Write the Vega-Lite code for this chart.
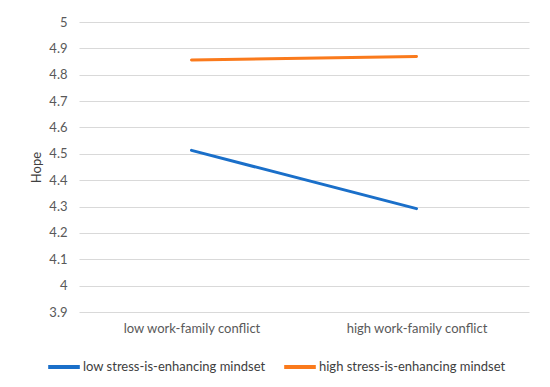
{
  "$schema": "https://vega.github.io/schema/vega-lite/v6.json",
  "autosize": "none",
  "width": 450,
  "height": 290,
  "padding": {"left": 79, "top": 22, "right": 21, "bottom": 75},
  "background": "white",
  "config": {
    "view": {"stroke": null},
    "font": "Lato",
    "axis": {"labelFont": "Lato", "titleFont": "Lato", "labelColor": "#595959", "titleColor": "#404040", "labelFontSize": 13, "titleFontSize": 13, "titleFontWeight": "normal"},
    "legend": {"labelFont": "Lato", "labelFontSize": 13, "labelColor": "#404040"}
  },
  "data": {
    "values": [
      {"conflict": "low work-family conflict", "mindset": "low stress-is-enhancing mindset", "hope": 4.513},
      {"conflict": "high work-family conflict", "mindset": "low stress-is-enhancing mindset", "hope": 4.292},
      {"conflict": "low work-family conflict", "mindset": "high stress-is-enhancing mindset", "hope": 4.856},
      {"conflict": "high work-family conflict", "mindset": "high stress-is-enhancing mindset", "hope": 4.869}
    ]
  },
  "mark": {"type": "line", "strokeWidth": 3, "strokeCap": "round"},
  "encoding": {
    "x": {
      "field": "conflict", "type": "nominal",
      "sort": ["low work-family conflict", "high work-family conflict"],
      "scale": {"type": "point", "padding": 0.5},
      "axis": {"title": null, "labelAngle": 0, "domain": false, "ticks": false, "grid": false, "labelPadding": 10}
    },
    "y": {
      "field": "hope", "type": "quantitative",
      "scale": {"domain": [3.9, 5], "nice": false, "zero": false},
      "axis": {"title": "Hope", "values": [3.9, 4, 4.1, 4.2, 4.3, 4.4, 4.5, 4.6, 4.7, 4.8, 4.9, 5], "labelExpr": "format(datum.value, '~g')", "domain": false, "ticks": false, "grid": true, "gridColor": "#d9d9d9", "gridWidth": 1, "labelPadding": 12, "titlePadding": 5}
    },
    "color": {
      "field": "mindset", "type": "nominal",
      "sort": ["low stress-is-enhancing mindset", "high stress-is-enhancing mindset"],
      "scale": {"domain": ["low stress-is-enhancing mindset", "high stress-is-enhancing mindset"], "range": ["#1a6fc9", "#fa7a1c"]},
      "legend": {"title": null, "orient": "none", "legendX": -33, "legendY": 327, "direction": "horizontal", "symbolType": "stroke", "symbolSize": 1000, "symbolStrokeWidth": 4, "columnPadding": 10, "labelOffset": 1, "labelLimit": 0}
    }
  }
}
